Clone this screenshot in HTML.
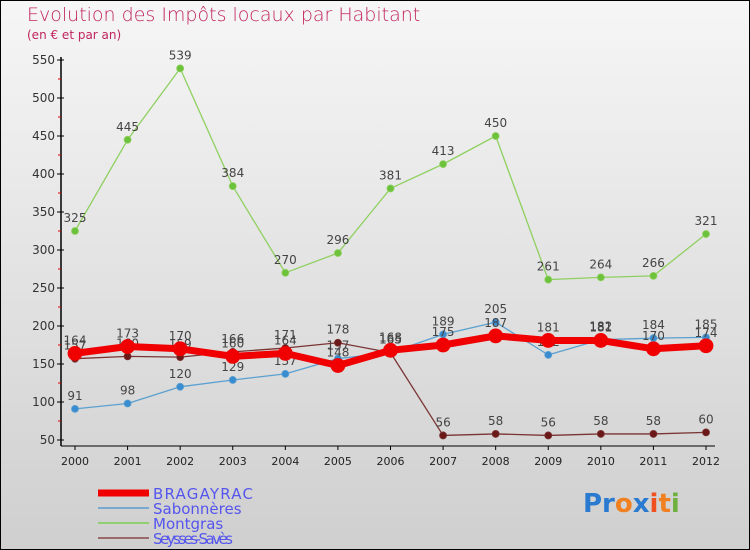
<!DOCTYPE html>
<html><head><meta charset="utf-8"><style>
body{margin:0;}
#wrap{position:relative;width:748px;height:548px;border:1px solid #000;background:linear-gradient(#f6f6f6,#cfcfcf);overflow:hidden;font-family:"DejaVu Sans","Liberation Sans",sans-serif;}
.t{position:absolute;color:#c0245e;}
</style></head><body>
<div id="wrap">
<div class="t" style="left:26px;top:3px;font-size:19px;font-weight:300;">Evolution des Impôts locaux par Habitant</div>
<div class="t" style="left:26px;top:27px;font-size:12px;">(en € et par an)</div>
<svg id="chart" width="750" height="550" style="position:absolute;left:-1px;top:-1px"></svg>
</div>
<script>
const years=[2000,2001,2002,2003,2004,2005,2006,2007,2008,2009,2010,2011,2012];
const yTicks=[50,100,150,200,250,300,350,400,450,500,550];
const bragayrac=[164,173,170,160,164,148,168,175,187,181,181,170,174];
const sabonneres=[91,98,120,129,137,157,165,189,205,162,182,184,185];
const montgras=[325,445,539,384,270,296,381,413,450,261,264,266,321];
const seysses=[157,160,159,166,171,178,165,56,58,56,58,58,60];
const NS="http://www.w3.org/2000/svg";
const svg=document.getElementById('chart');
const X=i=>75+i*(706-75)/12;
const Y=v=>440-(v-50)*0.76;
function el(t,a,p){const e=document.createElementNS(NS,t);for(const k in a)e.setAttribute(k,a[k]);(p||svg).appendChild(e);return e;}
// axes
let ax=el('line',{x1:61,y1:57,x2:61,y2:446,stroke:'#000','stroke-width':1.5});


let bx=el('line',{x1:61,y1:446,x2:715,y2:446,stroke:'#000','stroke-width':1});


yTicks.forEach((v,i)=>{
 el('line',{x1:57,y1:Y(v),x2:64,y2:Y(v),stroke:'#000'});
 if(i<yTicks.length-1) el('line',{x1:58,y1:Y(v+25),x2:61,y2:Y(v+25),stroke:'#d00'});
 const t=el('text',{x:55,y:Y(v)+4,'text-anchor':'end','font-size':12,fill:'#333','font-family':'DejaVu Sans,sans-serif'});
 t.textContent=v;
 
 
});
years.forEach((y,i)=>{
 el('line',{x1:X(i),y1:446,x2:X(i),y2:450,stroke:'#000'});
 const t=el('text',{x:X(i),y:465,'text-anchor':'middle','font-size':11,fill:'#222','font-family':'DejaVu Sans,sans-serif'});
 t.textContent=y;
 
 
});
function series(data,color,w,r,fill,name){
 const g=el('g',{});
 
 
 el('polyline',{points:data.map((v,i)=>X(i)+','+Y(v)).join(' '),fill:'none',stroke:color,'stroke-width':w,'stroke-linejoin':'round'},g);
 data.forEach((v,i)=>{
  const c=el('circle',{cx:X(i),cy:Y(v),r:r,fill:fill,stroke:color,'stroke-width':0.8},g);
  
  
  const t=el('text',{x:X(i),y:Y(v)-9,'text-anchor':'middle','font-size':12,fill:'#444','font-family':'DejaVu Sans,sans-serif'},g);
  t.textContent=v;
 });
}
series(montgras,'#8fd060',1.3,3.5,'#6cc23a','montgras-series');
series(sabonneres,'#5aa0d0',1.3,3.5,'#3a8cd0','sabonneres-series');
series(seysses,'#7a3434',1.3,3.5,'#6a1818','seysses-series');
series(bragayrac,'#f00000',7,7,'#f00000','bragayrac-series');
// legend
const leg=[['BRAGAYRAC','#f00000',7],['Sabonnères','#7aa8d0',2],['Montgras','#90d070',2],['Seysses-Savès','#9a6a6a',2]];
leg.forEach((l,i)=>{
 const yy=493+i*15;
 const g=el('g',{});
 
 
 el('line',{x1:98,y1:yy,x2:149,y2:yy,stroke:l[1],'stroke-width':l[2]},g);
 const t=el('text',{x:153,y:yy+6,'font-size':15,fill:'#5555ee','font-family':'DejaVu Sans,sans-serif','textLength':i==0?100:(i==3?80:null)},g);
 if(!t.getAttribute('textLength')||t.getAttribute('textLength')=='null')t.removeAttribute('textLength');
 t.textContent=l[0];
});
const logo=el('text',{x:583,y:512,'font-size':26,'font-family':'DejaVu Sans,sans-serif','font-weight':'bold'});


[['Pr','#2a7ad0'],['o','#f08020'],['x','#2a7ad0'],['i','#f05020'],['t','#f08020'],['i','#70b040']].forEach(p=>{const s=el('tspan',{fill:p[1]},logo);s.textContent=p[0];});
</script>
</body></html>
